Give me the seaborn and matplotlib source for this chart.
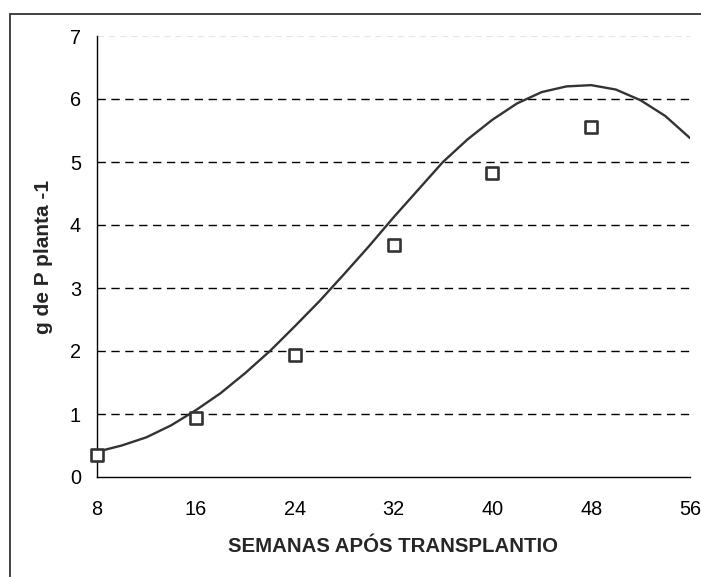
import matplotlib
matplotlib.use("Agg")
import matplotlib.pyplot as plt
from matplotlib.patches import Rectangle
import seaborn as sns
import pandas as pd

# observed data (squares)
weeks = [8, 16, 24, 32, 40, 48]
p_obs = [0.35, 0.94, 1.93, 3.68, 4.83, 5.55]

# trend curve
curve_weeks = [8, 10, 12, 14, 16, 18, 20, 22, 24, 26, 28, 30, 32, 34, 36,
               38, 40, 42, 44, 46, 48, 50, 52, 54, 56]
curve_vals = [0.40, 0.50, 0.63, 0.82, 1.06, 1.33, 1.65, 2.00, 2.39, 2.79,
              3.22, 3.66, 4.12, 4.56, 5.00, 5.36, 5.67, 5.93, 6.11, 6.20,
              6.22, 6.15, 5.98, 5.73, 5.38]

x_ticks = [8, 16, 24, 32, 40, 48, 56]
y_ticks = [0, 1, 2, 3, 4, 5, 6, 7]
x_label = "SEMANAS APÓS TRANSPLANTIO"
y_label = "g de P planta -1"

sns.set_style("white")
plt.rcParams['font.family'] = ['Liberation Sans', 'DejaVu Sans']

fig = plt.figure(figsize=(7.01, 5.77), dpi=100)
ax = fig.add_axes([97/701, 1 - 477/577, (690 - 97)/701, (477 - 36)/577])

# outer frame
fig.patches.append(Rectangle((10/701, -0.2), 1.2, 0.2 + (577 - 14)/577,
                             transform=fig.transFigure, fill=False,
                             edgecolor='#333333', linewidth=1.3))

for yv in y_ticks[1:-1]:
    ax.axhline(yv, xmin=0, xmax=(689 - 97)/(690 - 97), color='black',
               linestyle=(0, (6, 4)), linewidth=1.0, zorder=1)
ax.axhline(7, color='#e6e6e6', linestyle=(0, (6, 4)), linewidth=0.8, zorder=1)

df_curve = pd.DataFrame({"x": curve_weeks, "y": curve_vals})
sns.lineplot(data=df_curve, x="x", y="y", ax=ax, color='#333333',
             linewidth=1.7, zorder=3)

df_obs = pd.DataFrame({"x": weeks, "y": p_obs})
sns.scatterplot(data=df_obs, x="x", y="y", ax=ax, marker='s', s=82,
                facecolor='white', edgecolor='#333333', linewidth=1.9,
                zorder=4, clip_on=False)

ax.set_xlim(8, 56)
ax.set_ylim(0, 7)
ax.set_xticks(x_ticks)
ax.set_yticks(y_ticks)
ax.tick_params(axis='both', direction='out', length=4.5, width=1,
               color='black', labelsize=14.3, colors='black')
ax.tick_params(axis='x', pad=12)
ax.tick_params(axis='y', pad=7)
for side in ['top', 'right']:
    ax.spines[side].set_visible(False)
for side in ['left', 'bottom']:
    ax.spines[side].set_color('black')
    ax.spines[side].set_linewidth(1.0)

ax.set_xlabel(x_label, fontsize=14.7, fontweight='bold', labelpad=13)
ax.set_ylabel(y_label, fontsize=15, fontweight='bold', labelpad=12)

fig.savefig("out.png", dpi=100, facecolor='white')
